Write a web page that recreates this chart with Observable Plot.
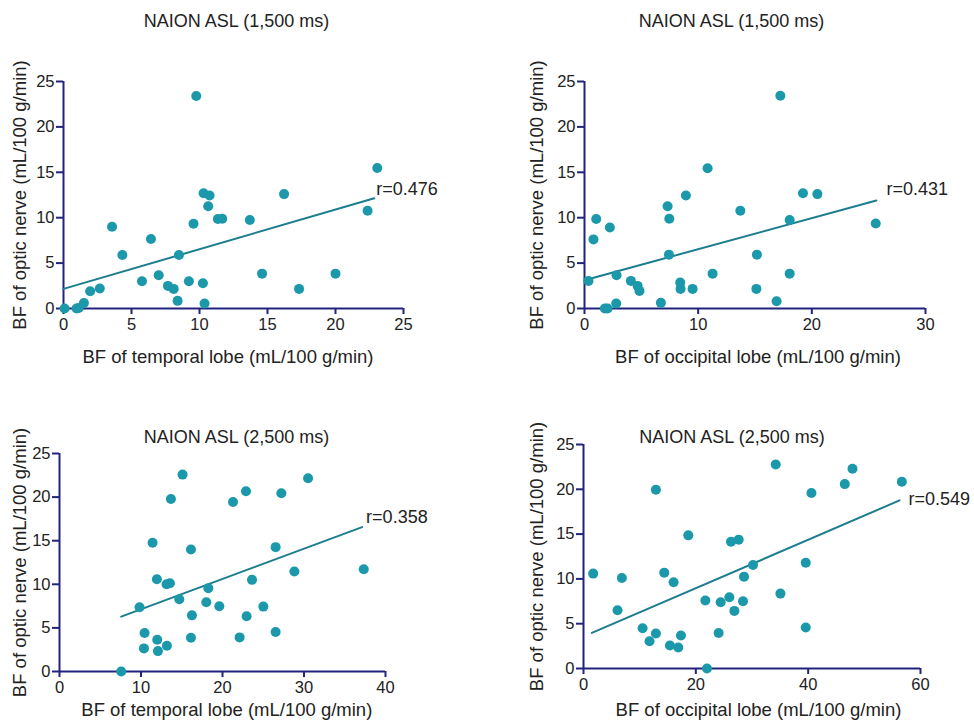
<!DOCTYPE html>
<html><head><meta charset="utf-8">
<script src="https://cdn.jsdelivr.net/npm/d3@7"></script>
<script src="https://cdn.jsdelivr.net/npm/@observablehq/plot@0.6"></script>
<style>
body{margin:0;background:#fff;}
#wrap{position:relative;width:974px;height:722px;font-family:"Liberation Sans",Arial,sans-serif;overflow:hidden;}
#wrap svg{position:absolute;overflow:visible;}
</style></head><body><div id="wrap"></div>
<script>
// ---- Data ----
const titles = ["NAION ASL (1,500 ms)", "NAION ASL (1,500 ms)", "NAION ASL (2,500 ms)", "NAION ASL (2,500 ms)"];
const xLabels = ["BF of temporal lobe (mL/100 g/min)", "BF of occipital lobe (mL/100 g/min)", "BF of temporal lobe (mL/100 g/min)", "BF of occipital lobe (mL/100 g/min)"];
const yLabel = "BF of optic nerve (mL/100 g/min)";
const rLabels = ["r=0.476", "r=0.431", "r=0.358", "r=0.549"];
const yTicks = [0, 5, 10, 15, 20, 25];
const xTicks1 = [0, 5, 10, 15, 20, 25];
const xTicks2 = [0, 10, 20, 30];
const xTicks3 = [0, 10, 20, 30, 40];
const xTicks4 = [0, 20, 40, 60];

// Panel 1: 1,500 ms, temporal lobe
const x1 = [0.08,0.96,1.12,1.5,1.96,2.67,3.57,4.33,5.77,6.43,7.0,7.68,8.1,8.39,8.49,9.22,9.56,9.76,10.25,10.37,10.3,10.74,10.64,11.35,11.67,13.7,14.6,16.22,17.32,20.0,22.36,23.07];
const y1 = [0,0,0.05,0.6,1.9,2.2,9.0,5.9,3.0,7.65,3.66,2.49,2.16,0.84,5.9,3.0,9.33,23.4,2.78,0.55,12.7,12.45,11.27,9.85,9.88,9.74,3.84,12.6,2.16,3.84,10.76,15.48];
const fit1x = [0, 22.85], fit1y = [2.16, 12.15];

// Panel 2: 1,500 ms, occipital lobe
const x2 = [0.35,0.79,1.03,1.79,2.03,2.23,2.82,2.79,4.08,4.67,4.84,6.72,7.31,7.46,7.43,8.42,8.45,8.92,9.51,10.83,11.27,13.71,15.12,15.17,16.9,17.23,18.05,18.05,19.22,20.49,25.62];
const y2 = [3.04,7.61,9.85,0,0,8.93,3.66,0.55,3.04,2.49,1.94,0.62,11.27,9.88,5.93,2.86,2.16,12.45,2.16,15.45,3.84,10.76,2.16,5.93,0.8,23.43,3.84,9.74,12.7,12.6,9.37];
const fit2x = [0, 25.68], fit2y = [3.11, 11.9];

// Panel 3: 2,500 ms, temporal lobe
const x3 = [7.57,9.82,10.44,10.36,11.42,11.95,11.99,12.08,13.14,13.55,13.18,13.67,14.7,15.1,16.13,16.25,16.13,18.01,18.26,19.61,21.29,22.1,22.88,22.96,23.62,25.01,26.52,26.52,27.22,28.82,30.5,37.33];
const y3 = [0,7.36,4.41,2.65,14.76,10.58,3.64,2.34,10.0,10.12,2.95,19.79,8.28,22.58,13.99,6.44,3.87,7.94,9.55,7.48,19.44,3.91,20.67,6.33,10.51,7.44,14.26,4.52,20.44,11.46,22.16,11.73];
const fit3x = [7.57, 37.13], fit3y = [6.29, 16.56];

// Panel 4: 2,500 ms, occipital lobe
const x4 = [1.72,6.06,6.83,10.52,11.76,12.89,12.89,14.38,15.39,16.04,16.87,17.35,18.66,21.69,21.98,24.06,24.42,25.97,26.26,26.86,27.63,28.4,28.58,30.18,34.22,35.06,39.57,39.57,40.58,46.52,47.89,56.68];
const y4 = [10.59,6.5,10.1,4.49,3.05,3.9,19.95,10.7,2.56,9.62,2.34,3.68,14.86,7.58,0,3.97,7.39,7.95,14.15,6.43,14.38,7.5,10.25,11.55,22.77,8.36,11.81,4.57,19.58,20.58,22.29,20.84];
const fit4x = [1.49, 56.27], fit4y = [3.97, 18.76];

// ---- Styling ----
const NAVY = "#23237e", DOT = "#1c98ab", LINE = "#1b7d8e", TEXT = "#222";
const FONT = "'Liberation Sans', Arial, sans-serif";

const panels = [
  {left: 0, top: 0, width: 487, height: 370, mL: 63, mR: 84, mT: 81, mB: 62, xd: [0, 25], xt: xTicks1, xs: x1, ys: y1, fx: fit1x, fy: fit1y,
   tdx: 3, tdy: -60.3, xldx: -5.5, xldy: 48.7, yldx: -43, rdx: 2, rdy: -9},
  {left: 487, top: 0, width: 487, height: 370, mL: 97, mR: 49, mT: 81, mB: 62, xd: [0, 30], xt: xTicks2, xs: x2, ys: y2, fx: fit2x, fy: fit2y,
   tdx: -23.5, tdy: -60.3, xldx: 3, xldy: 48.7, yldx: -47, rdx: 10, rdy: -11},
  {left: 0, top: 370, width: 487, height: 352, mL: 59, mR: 102, mT: 83, mB: 51, xd: [0, 40], xt: xTicks3, xs: x3, ys: y3, fx: fit3x, fy: fit3y,
   tdx: 14, tdy: -16.6, xldx: 4.3, xldy: 39, yldx: -39.3, rdx: 4, rdy: -10},
  {left: 487, top: 370, width: 487, height: 352, mL: 96, mR: 54, mT: 74, mB: 54, xd: [0, 60], xt: xTicks4, xs: x4, ys: y4, fx: fit4x, fy: fit4y,
   tdx: -20, tdy: -7.3, xldx: 6.5, xldy: 41.5, yldx: -46, rdx: 9, rdy: -1}
];

const wrap = document.getElementById("wrap");
panels.forEach((p, i) => {
  const pts = p.xs.map((x, j) => ({x, y: p.ys[j]}));
  const fit = p.fx.map((x, j) => ({x, y: p.fy[j]}));
  const fitEnd = [fit[fit.length - 1]];
  const svg = Plot.plot({
    width: p.width, height: p.height,
    marginLeft: p.mL, marginRight: p.mR, marginTop: p.mT, marginBottom: p.mB,
    style: {fontFamily: FONT, fontSize: "16.5px", background: "transparent", color: TEXT, overflow: "visible"},
    x: {domain: p.xd},
    y: {domain: [0, 25]},
    marks: [
      Plot.ruleX([p.xd[0]], {stroke: NAVY, strokeWidth: 2}),
      Plot.ruleY([0], {stroke: NAVY, strokeWidth: 2}),
      Plot.axisX({ticks: p.xt, tickSize: 6, tickPadding: 4, stroke: NAVY, strokeWidth: 2, color: TEXT, label: null, fontSize: 16.5}),
      Plot.axisY({ticks: yTicks, tickSize: 7, tickPadding: 2, stroke: NAVY, strokeWidth: 2, color: TEXT, label: null, fontSize: 16.5}),
      Plot.line(fit, {x: "x", y: "y", stroke: LINE, strokeWidth: 2}),
      Plot.dot(pts, {x: "x", y: "y", r: 5, fill: DOT, stroke: "none"}),
      Plot.text(fitEnd, {x: "x", y: "y", text: () => rLabels[i], textAnchor: "start", dx: p.rdx, dy: p.rdy, fontSize: 18, fill: TEXT}),
      Plot.text([titles[i]], {frameAnchor: "top", text: d => d, textAnchor: "middle", lineAnchor: "middle", dx: p.tdx, dy: p.tdy, fontSize: 18, fill: TEXT}),
      Plot.text([xLabels[i]], {frameAnchor: "bottom", text: d => d, textAnchor: "middle", lineAnchor: "middle", dx: p.xldx, dy: p.xldy, fontSize: 18.5, fill: TEXT}),
      Plot.text([yLabel], {frameAnchor: "left", text: d => d, textAnchor: "middle", lineAnchor: "middle", rotate: -90, dx: p.yldx, fontSize: 18.5, fill: TEXT})
    ]
  });
  svg.style.left = p.left + "px";
  svg.style.top = p.top + "px";
  wrap.appendChild(svg);
});
</script>
</body></html>
